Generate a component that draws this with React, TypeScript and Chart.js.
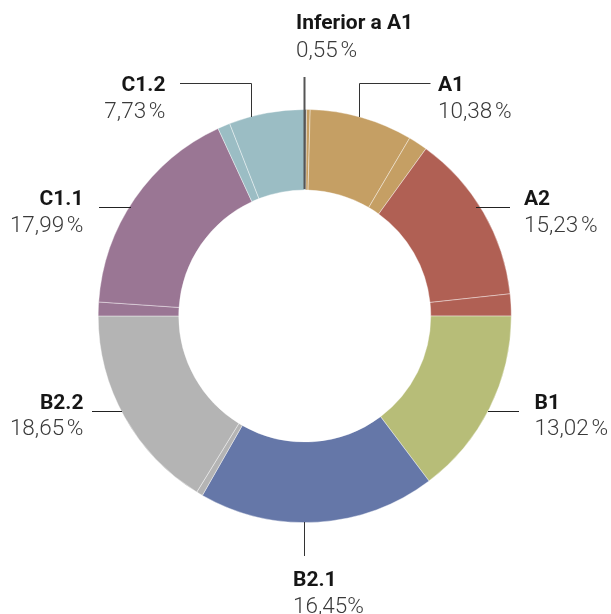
import React, { useEffect, useRef } from "react";
import { Chart, registerables } from "chart.js";

Chart.register(...registerables);

// Categories shown in the labels
const CATEGORY_NAMES = ["Inferior a A1", "A1", "A2", "B1", "B2.1", "B2.2", "C1.1", "C1.2"];
const CATEGORY_PCT_TEXT = ["0,55\u202F%", "10,38\u202F%", "15,23\u202F%", "13,02\u202F%", "16,45%", "18,65\u202F%", "17,99\u202F%", "7,73\u202F%"];
const CATEGORY_COLORS = ["#5b5b5b", "#c59f64", "#b06054", "#b7bd78", "#6577a8", "#b4b4b4", "#9a7694", "#9bbdc4"];

// Ring slices (as drawn, clockwise from top), each belongs to a category
const SLICE_CATEGORY = ["Inferior a A1", "A1", "A1", "A1", "A2", "A2", "B1", "B2.1", "B2.2", "B2.2", "C1.1", "C1.1", "C1.2", "C1.2"];
const SLICE_VALUES = [0.14, 0.28, 8.06, 1.5, 13.31, 1.72, 14.72, 18.53, 0.5, 16.25, 1.08, 17.03, 0.97, 5.92];

// Annotation layout (label text anchors and leader lines), in canvas pixels
type LabelLayout = {
  name: string;
  x: number;
  align: "left" | "right";
  y1: number;
  y2: number;
  line: number[][];
  lineColor: string;
  lineWidth: number;
};
const LABEL_LAYOUT: LabelLayout[] = [
  { name: "Inferior a A1", x: 296, align: "left", y1: 29, y2: 56.5, line: [[304.5, 77], [304.5, 189]], lineColor: "#555", lineWidth: 2 },
  { name: "A1", x: 438, align: "left", y1: 90.5, y2: 117.5, line: [[430.5, 83.5], [359.5, 83.5], [359.5, 117]], lineColor: "#333", lineWidth: 1 },
  { name: "A2", x: 524, align: "left", y1: 204.5, y2: 231.5, line: [[476, 207.5], [510, 207.5]], lineColor: "#222", lineWidth: 1 },
  { name: "B1", x: 534.5, align: "left", y1: 408.5, y2: 435, line: [[488, 411.5], [519, 411.5]], lineColor: "#222", lineWidth: 1 },
  { name: "B2.1", x: 293, align: "left", y1: 586, y2: 612.5, line: [[304.5, 522], [304.5, 556]], lineColor: "#333", lineWidth: 1 },
  { name: "B2.2", x: 83.5, align: "right", y1: 408.5, y2: 435, line: [[92, 411.5], [122, 411.5]], lineColor: "#222", lineWidth: 1 },
  { name: "C1.1", x: 83.5, align: "right", y1: 204.5, y2: 231.5, line: [[99, 207.5], [131, 207.5]], lineColor: "#222", lineWidth: 1 },
  { name: "C1.2", x: 165.5, align: "right", y1: 90.5, y2: 117.5, line: [[180, 83.5], [251.5, 83.5], [251.5, 117]], lineColor: "#333", lineWidth: 1 },
];

const labelsPlugin = {
  id: "ringLabels",
  afterDraw(chart: any) {
    const ctx = chart.ctx as CanvasRenderingContext2D;
    ctx.save();
    for (const l of LABEL_LAYOUT) {
      ctx.beginPath();
      ctx.strokeStyle = l.lineColor;
      ctx.lineWidth = l.lineWidth;
      l.line.forEach((p, i) => (i === 0 ? ctx.moveTo(p[0], p[1]) : ctx.lineTo(p[0], p[1])));
      ctx.stroke();
      const idx = CATEGORY_NAMES.indexOf(l.name);
      ctx.textAlign = l.align;
      ctx.textBaseline = "alphabetic";
      ctx.fillStyle = "#161616";
      ctx.font = "700 21px Roboto, 'Liberation Sans', sans-serif";
      ctx.fillText(CATEGORY_NAMES[idx], l.x, l.y1);
      ctx.fillStyle = "#3a3a3a";
      ctx.font = "300 22.5px Roboto, 'Liberation Sans', sans-serif";
      ctx.fillText(CATEGORY_PCT_TEXT[idx], l.x, l.y2);
    }
    ctx.restore();
  },
};

export default function App() {
  const ref = useRef<HTMLCanvasElement | null>(null);
  useEffect(() => {
    if (!ref.current) return;
    const colors = SLICE_CATEGORY.map((c) => CATEGORY_COLORS[CATEGORY_NAMES.indexOf(c)]);
    const chart = new Chart(ref.current, {
      type: "doughnut",
      data: {
        labels: SLICE_CATEGORY,
        datasets: [
          {
            data: SLICE_VALUES,
            backgroundColor: colors,
            borderColor: "#ffffff",
            borderWidth: 0.4,
            hoverOffset: 0,
          },
        ],
      },
      options: {
        responsive: false,
        animation: false,
        cutout: "61%",
        layout: { padding: { left: 98, right: 99.5, top: 109, bottom: 91 } },
        plugins: { legend: { display: false }, tooltip: { enabled: false } },
      },
      plugins: [labelsPlugin],
    });
    return () => chart.destroy();
  }, []);
  return (
    <div style={{ position: "fixed", left: 0, top: 0, width: 611, height: 614, background: "#fff" }}>
      <canvas ref={ref} width={611} height={614} style={{ width: 611, height: 614, display: "block" }} />
    </div>
  );
}
